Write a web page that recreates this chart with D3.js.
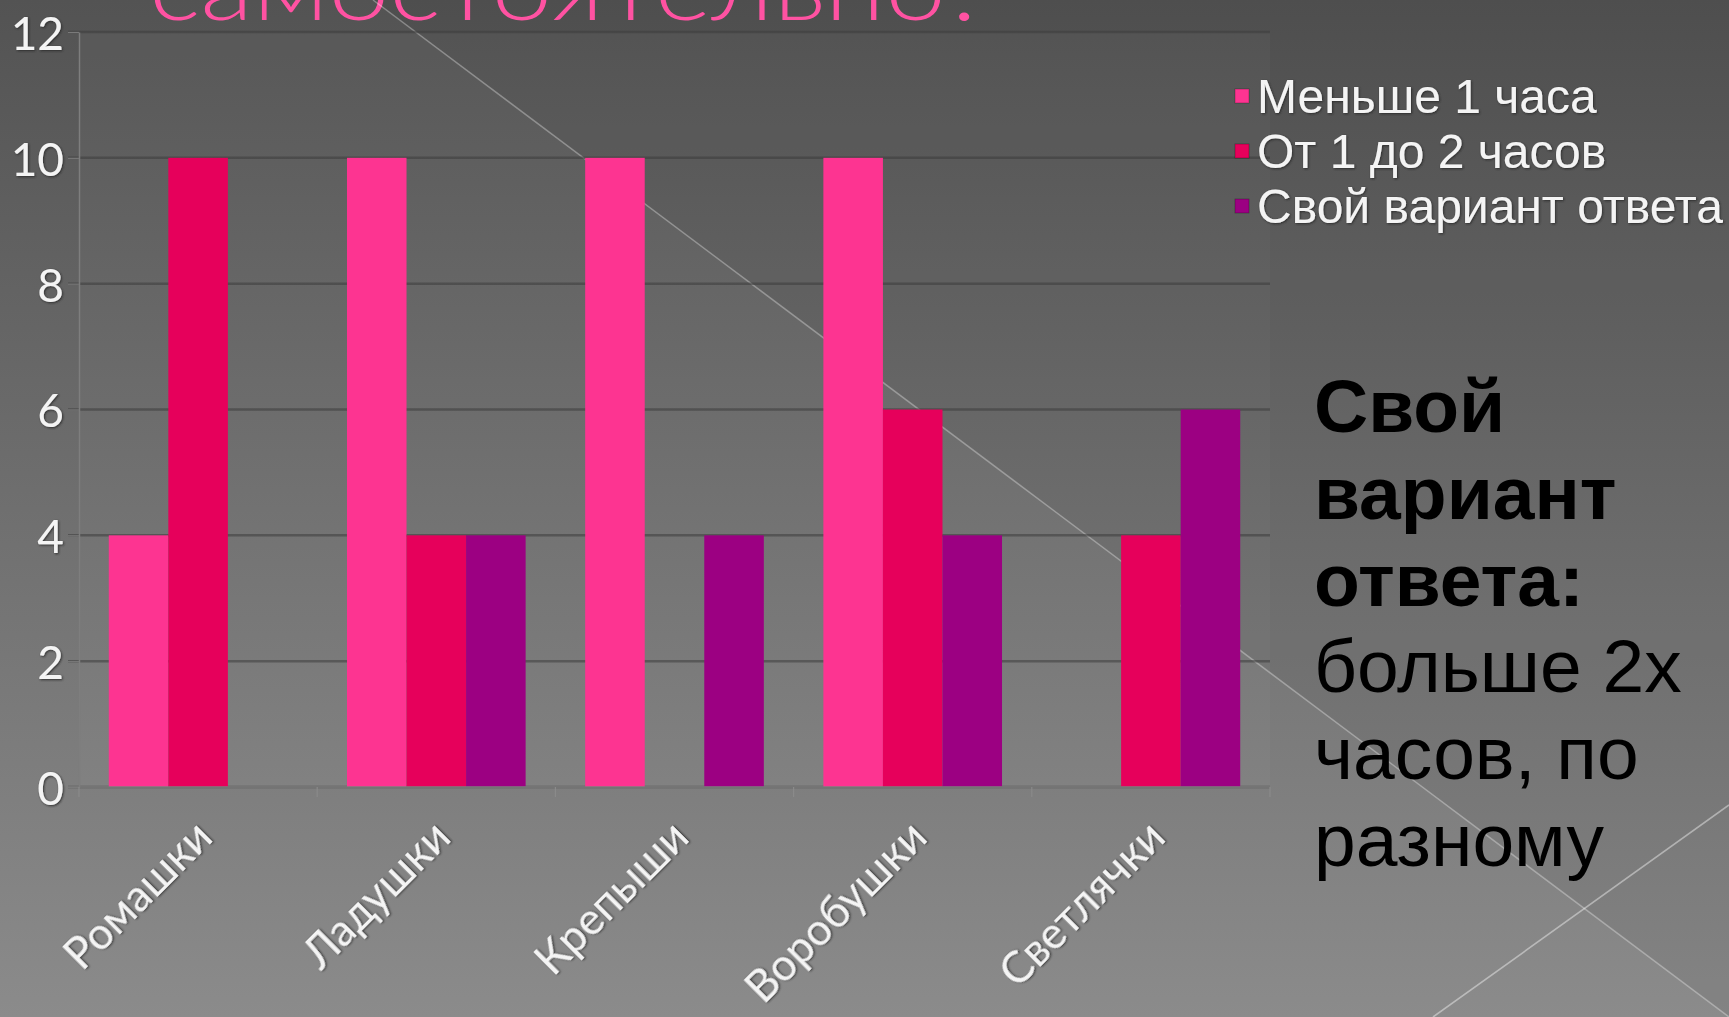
<!DOCTYPE html>
<html>
<head>
<meta charset="utf-8">
<script src="https://cdn.jsdelivr.net/npm/d3@7"></script>
<style>
  html, body { margin: 0; padding: 0; background: #555; overflow: hidden; }
  svg { display: block; }
</style>
</head>
<body>
<svg id="chart" width="1729" height="1017"></svg>
<script>
// ---- data ----
const categories = ["Ромашки", "Ладушки", "Крепыши", "Воробушки", "Светлячки"];
const seriesNames = ["Меньше 1 часа", "От 1 до 2 часов", "Свой вариант ответа"];
const lessThan1Hour = [4, 10, 10, 10, 0];
const from1To2Hours = [10, 4, 0, 6, 4];
const ownAnswer = [0, 4, 4, 4, 6];
const yTickValues = [0, 2, 4, 6, 8, 10, 12];
const seriesColors = ["#fd3491", "#e6005b", "#9c0082"];
const titleText = "самостоятельно?";
const noteBold = ["Свой", "вариант", "ответа:"];
const noteRegular = ["больше 2х", "часов, по", "разному"];

const seriesValues = [lessThan1Hour, from1To2Hours, ownAnswer];

(function draw() {
const W = 1729, H = 1017;
const svg = d3.select("#chart");
const defs = svg.append("defs");

// background gradient
const bg = defs.append("linearGradient").attr("id", "bg").attr("x1", 0).attr("y1", 0).attr("x2", 0).attr("y2", 1);
bg.append("stop").attr("offset", "0%").attr("stop-color", "#535353");
bg.append("stop").attr("offset", "100%").attr("stop-color", "#8b8b8b");
svg.append("rect").attr("width", W).attr("height", H).attr("fill", "url(#bg)");

// darker triangle above-right of the decorative line
svg.append("path")
  .attr("d", `M373,0 L${W},0 L${W},${H} Z`)
  .attr("fill", "rgba(0,0,0,0.05)");

// label shadow filter
const f = defs.append("filter").attr("id", "shadow").attr("x", "-20%").attr("y", "-20%").attr("width", "140%").attr("height", "140%");
f.append("feDropShadow").attr("dx", 1).attr("dy", 1).attr("stdDeviation", 1.2).attr("flood-color", "#2a2a2a").attr("flood-opacity", 0.9);

// title (cut by the top edge, as in the slide)
svg.append("text")
  .attr("x", 149).attr("y", 20)
  .attr("textLength", 841).attr("lengthAdjust", "spacingAndGlyphs")
  .attr("font-family", "Lato, 'Noto Sans', sans-serif")
  .attr("font-weight", 300)
  .attr("font-size", 92)
  .attr("fill", "#ff52a2")
  .text(titleText);

// ---- scales ----
const pLeft = 79, pRight = 1270, pTop = 32, pBottom = 787;
const x0 = d3.scaleBand().domain(categories).range([pLeft, pRight]).padding(0);
const bw = x0.bandwidth();
const x1 = d3.scaleBand().domain(seriesNames).range([bw * 0.125, bw * 0.875]).padding(0);
const y = d3.scaleLinear().domain([0, 12]).range([pBottom, pTop]);

// plot area
svg.append("rect").attr("x", pLeft).attr("y", pTop).attr("width", pRight - pLeft).attr("height", pBottom - pTop)
  .attr("fill", "rgba(255,255,255,0.025)");

// decorative lines (behind bars)
svg.append("line").attr("x1", 373).attr("y1", 0).attr("x2", W).attr("y2", H)
  .attr("stroke", "rgba(255,255,255,0.32)").attr("stroke-width", 1.4);
svg.append("line").attr("x1", 1433).attr("y1", H).attr("x2", W).attr("y2", 805)
  .attr("stroke", "rgba(255,255,255,0.42)").attr("stroke-width", 1.6);

// gridlines
svg.append("g").selectAll("line").data(yTickValues).join("line")
  .attr("x1", pLeft - 11).attr("x2", pRight)
  .attr("y1", d => y(d)).attr("y2", d => y(d))
  .attr("stroke", "rgba(60,60,60,0.55)").attr("stroke-width", 2.5);

// y axis
const yAxis = svg.append("g").attr("transform", `translate(${pLeft},0)`)
  .call(d3.axisLeft(y).tickValues(yTickValues).tickSizeInner(11).tickSizeOuter(0).tickPadding(4));
yAxis.select(".domain").attr("stroke", "#7e7e7e").attr("stroke-width", 1.5);
yAxis.selectAll(".tick line").attr("stroke", "#7a7a7a").attr("stroke-width", 1.2);
yAxis.selectAll(".tick text")
  .attr("font-family", "Lato, 'Noto Sans', sans-serif")
  .attr("font-size", 46)
  .attr("fill", "#f4f4f4")
  .attr("dy", "0.38em")
  .attr("filter", "url(#shadow)");

// bars
const groups = svg.append("g").selectAll("g").data(categories).join("g")
  .attr("transform", d => `translate(${x0(d)},0)`);
groups.selectAll("rect")
  .data((c, i) => seriesNames.map((s, k) => ({ s, k, v: seriesValues[k][i] })).filter(d => d.v > 0))
  .join("rect")
  .attr("x", d => x1(d.s))
  .attr("width", x1.bandwidth())
  .attr("y", d => y(d.v))
  .attr("height", d => y(0) - y(d.v))
  .attr("fill", d => seriesColors[d.k]);

// x axis
const xAxis = svg.append("g").attr("transform", `translate(0,${pBottom})`)
  .call(d3.axisBottom(x0).tickSize(0).tickPadding(0));
xAxis.select(".domain").attr("stroke", "#7e7e7e").attr("stroke-width", 1.5)
  .attr("d", `M${pLeft - 11},0H${pRight}`);
xAxis.selectAll(".tick text")
  .attr("font-family", "Lato, 'Noto Sans', sans-serif")
  .attr("font-size", 44)
  .attr("fill", "#f4f4f4")
  .attr("text-anchor", "end")
  .attr("dy", "0.35em")
  .attr("transform", "translate(6,42) rotate(-45)")
  .attr("filter", "url(#shadow)");
// boundary ticks
const boundaries = categories.map(c => x0(c)).concat([x0.range()[1]]);
svg.append("g").selectAll("line").data(boundaries).join("line")
  .attr("x1", d => d).attr("x2", d => d)
  .attr("y1", pBottom).attr("y2", pBottom + 10)
  .attr("stroke", "#8a8a8a").attr("stroke-width", 1.2);

// legend
const legend = svg.append("g").attr("transform", "translate(1235,96)");
const li = legend.selectAll("g").data(seriesNames).join("g")
  .attr("transform", (d, i) => `translate(0,${i * 55})`);
li.append("rect").attr("x", 0).attr("y", -7).attr("width", 14).attr("height", 14)
  .attr("fill", (d, i) => seriesColors[i]).attr("stroke", "rgba(0,0,0,0.25)");
li.append("text").attr("x", 22).attr("y", 0).attr("dy", "0.36em")
  .attr("font-family", "'Liberation Sans', Arial, sans-serif")
  .attr("font-size", 48)
  .attr("fill", "#f4f4f4")
  .attr("filter", "url(#shadow)")
  .text(d => d);

// side note
const note = svg.append("text")
  .attr("font-family", "'Liberation Sans', Arial, sans-serif")
  .attr("font-size", 75)
  .attr("fill", "#000");
noteBold.concat(noteRegular).forEach((t, i) => {
  note.append("tspan").attr("x", 1314).attr("y", 432 + i * 86.8)
    .attr("font-weight", i < noteBold.length ? 700 : 400)
    .text(t);
});
})();
</script>
</body>
</html>
